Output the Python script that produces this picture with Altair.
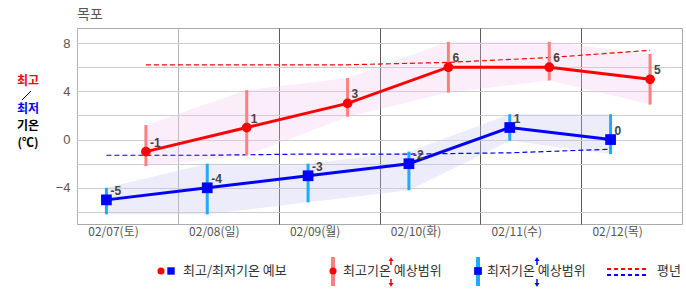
import json
import altair as alt
import pandas as pd

# ---------------- data ----------------
dates = ["02/07(토)", "02/08(일)", "02/09(월)", "02/10(화)", "02/11(수)", "02/12(목)"]
tmax = [-1, 1, 3, 6, 6, 5]
tmax_hi = [1.2, 4.1, 5.1, 8.1, 8.1, 7.1]
tmax_lo = [-2.2, -1.3, 1.9, 3.9, 4.9, 2.9]
tmin = [-5, -4, -3, -2, 1, 0]
tmin_hi = [-4.0, -2.0, -2.0, -1.0, 2.1, 2.1]
tmin_lo = [-6.2, -6.2, -5.2, -4.2, -0.1, -1.2]
normal_max = [6.2, 6.2, 6.2, 6.4, 6.8, 7.4]
normal_min = [-1.3, -1.3, -1.2, -1.2, -1.1, -0.8]
MIN_HOUR = 7.0    # hour of day at which the minimum is plotted
MAX_HOUR = 16.4   # hour of day at which the maximum is plotted

df = pd.DataFrame({
    "day": dates,
    "xmin": [i + MIN_HOUR / 24 for i in range(len(dates))],
    "xmax": [i + MAX_HOUR / 24 for i in range(len(dates))],
    "tmax": tmax, "tmax_hi": tmax_hi, "tmax_lo": tmax_lo,
    "tmin": tmin, "tmin_hi": tmin_hi, "tmin_lo": tmin_lo,
    "nmax": normal_max, "nmin": normal_min,
})
df["tmax_lbl"] = [str(v) for v in tmax]
df["tmin_lbl"] = [str(v) for v in tmin]

FONT = "Noto Sans CJK KR"
NUMFONT = "Liberation Sans"

xscale = alt.Scale(domain=[0, 6], nice=False, zero=False)
yscale = alt.Scale(domain=[-7, 9.25], nice=False, zero=False)

x_axis = alt.Axis(
    values=list(range(6)),
    labelExpr=json.dumps(dates, ensure_ascii=False) + "[datum.value]",
    labelOffset=36, labelAlign="center", labelFlush=False,
    ticks=False, tickSize=0, domain=False, grid=True,
    gridColor={"condition": {"test": "datum.value <= 1", "value": "#b4b4b4"}, "value": "#5a5a5a"},
    labelColor="#555555", labelFont=FONT, labelFontSize=12, labelPadding=2, title=None,
)
y_axis = alt.Axis(
    values=list(range(-6, 9, 2)),
    labelExpr="datum.value % 4 == 0 ? datum.label : ''",
    ticks=False, tickSize=0, domain=False, gridColor="#cccccc",
    labelColor="#555555", labelFont=NUMFONT, labelFontSize=13, labelPadding=7, title=None,
)


def X(f):
    return alt.X(f, type="quantitative", scale=xscale, axis=x_axis)


def Y(f):
    return alt.Y(f, type="quantitative", scale=yscale, axis=y_axis)


base = alt.Chart(df)

area_max = base.mark_area(color="#f3c6ee", opacity=0.3).encode(
    x=X("xmax"), y=Y("tmax_hi"), y2=alt.Y2("tmax_lo"))
area_min = base.mark_area(color="#c4c4f2", opacity=0.33).encode(
    x=X("xmin"), y=Y("tmin_hi"), y2=alt.Y2("tmin_lo"))

norm_max = base.mark_line(color="#ff0000", strokeWidth=1.2, strokeDash=[5, 3]).encode(
    x=X("xmax"), y=Y("nmax"))
norm_min = base.mark_line(color="#0000ff", strokeWidth=1.2, strokeDash=[5, 3]).encode(
    x=X("xmin"), y=Y("nmin"))

bar_max = base.mark_rule(color="#ff7f7f", strokeWidth=3).encode(
    x=X("xmax"), y=Y("tmax_hi"), y2=alt.Y2("tmax_lo"))
bar_min = base.mark_rule(color="#1eaaff", strokeWidth=3).encode(
    x=X("xmin"), y=Y("tmin_hi"), y2=alt.Y2("tmin_lo"))

line_max = base.mark_line(color="#ff0000", strokeWidth=3).encode(x=X("xmax"), y=Y("tmax"))
line_min = base.mark_line(color="#0000ff", strokeWidth=3).encode(x=X("xmin"), y=Y("tmin"))

pt_max = base.mark_point(shape="circle", filled=True, color="#ff0000", size=95, opacity=1).encode(
    x=X("xmax"), y=Y("tmax"))
pt_min = base.mark_point(shape="square", filled=True, color="#0000ff", size=115, opacity=1).encode(
    x=X("xmin"), y=Y("tmin"))

lbl_max = base.mark_text(align="left", baseline="middle", dx=4, dy=-9, font=NUMFONT,
                         fontSize=12, fontWeight="bold", color="#444444").encode(
    x=X("xmax"), y=Y("tmax"), text="tmax_lbl:N")
lbl_min = base.mark_text(align="left", baseline="middle", dx=4, dy=-9, font=NUMFONT,
                         fontSize=12, fontWeight="bold", color="#444444").encode(
    x=X("xmin"), y=Y("tmin"), text="tmin_lbl:N")

# ---------------- decorations (title, y title, legend) ----------------
one = pd.DataFrame({"k": [0]})


def txt(s, x, y, color="#333333", size=13, weight="normal", align="left"):
    return alt.Chart(one).mark_text(text=s, align=align, baseline="middle", font=FONT,
                                    fontSize=size, fontWeight=weight, color=color).encode(
        x=alt.value(x), y=alt.value(y))


def pt(shape, color, size, x, y):
    return alt.Chart(one).mark_point(shape=shape, filled=True, color=color, size=size,
                                     opacity=1).encode(x=alt.value(x), y=alt.value(y))


def rule(color, w, x, y, x2=None, y2=None, dash=None):
    kw = dict(color=color, strokeWidth=w)
    if dash:
        kw["strokeDash"] = dash
    enc = dict(x=alt.value(x), y=alt.value(y))
    enc["x2"] = alt.value(x if x2 is None else x2)
    enc["y2"] = alt.value(y if y2 is None else y2)
    return alt.Chart(one).mark_rule(**kw).encode(**enc)


deco = [
    txt("목포", 0, -13, color="#555555", size=14),
    txt("최고", -49, 53, color="#ff0000", size=12, weight="bold", align="center"),
    rule("#000000", 1, -55, 72, -46, 63),
    txt("최저", -49, 81, color="#0000ff", size=12, weight="bold", align="center"),
    txt("기온", -49, 98, color="#000000", size=12, weight="bold", align="center"),
    txt("(℃)", -49, 115, color="#000000", size=12, weight="bold", align="center"),
    # legend 1
    pt("circle", "#ff0000", 50, 84, 243),
    pt("square", "#0000ff", 55, 94, 243),
    txt("최고/최저기온 예보", 106, 243),
    # legend 2
    rule("#ff8080", 4, 256, 229, None, 258),
    pt("circle", "#ff0000", 50, 256, 243),
    txt("최고기온 예상범위", 266, 243),
    rule("#ff0000", 1.5, 314, 231, None, 237),
    pt("triangle-up", "#ff0000", 22, 314, 231),
    rule("#ff0000", 1.5, 314, 251, None, 257),
    pt("triangle-down", "#ff0000", 22, 314, 257),
    # legend 3
    rule("#1eaaff", 4, 401, 229, None, 258),
    pt("square", "#0000ff", 60, 401, 243),
    txt("최저기온 예상범위", 410, 243),
    rule("#0000ff", 1.5, 460, 231, None, 237),
    pt("triangle-up", "#0000ff", 22, 460, 231),
    rule("#0000ff", 1.5, 460, 251, None, 257),
    pt("triangle-down", "#0000ff", 22, 460, 257),
    # legend 4
    rule("#ff0000", 2, 530, 241, 570, None, dash=[4, 3]),
    rule("#0000ff", 2, 530, 247, 570, None, dash=[4, 3]),
    txt("평년", 580, 243),
]

chart = alt.layer(
    area_max, area_min, norm_max, norm_min, bar_max, bar_min,
    line_max, line_min, pt_max, pt_min, lbl_max, lbl_min, *deco
).properties(
    width=605, height=196,
    autosize=alt.AutoSizeParams(type="none"),
    padding={"left": 77, "top": 28, "right": 4, "bottom": 71},
).configure_view(stroke="#aaaaaa")

chart.save("out.html", embed_options={"renderer": "svg", "actions": False})
